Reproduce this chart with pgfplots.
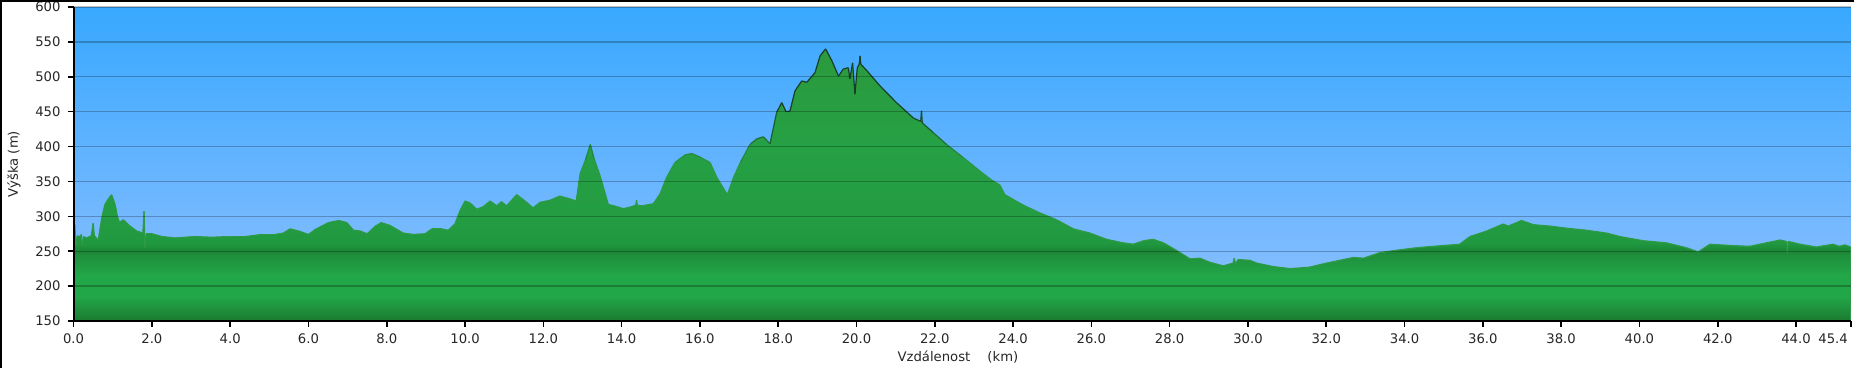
\documentclass[border=0pt]{standalone}
\usepackage{fontspec}
\setmainfont{DejaVu Sans}
\usepackage{pgfplots}
\pgfplotsset{compat=1.18}
\usepackage{pgfplotstable}
\definecolor{bgtop}{HTML}{38A8FF}
\definecolor{bgbot}{HTML}{90C0FF}
\definecolor{ga}{HTML}{1B7A30}
\definecolor{gb}{HTML}{22A748}
\definecolor{gc}{HTML}{1F8F3C}
\definecolor{gd}{HTML}{1B8536}
\definecolor{ge}{HTML}{209840}
\definecolor{gf}{HTML}{239C42}
\definecolor{gg}{HTML}{26A044}
\definecolor{gh}{HTML}{2C9A3E}
\pgfdeclareverticalshading{greenfill}{100bp}{color(0bp)=(ga); color(25bp)=(ga); color(29.5bp)=(gb); color(33.3bp)=(gb); color(37.1bp)=(gc); color(37.8bp)=(gd); color(39.3bp)=(ge); color(44.2bp)=(gf); color(57bp)=(gg); color(75bp)=(gh); color(100bp)=(gh)}
\pgfplotstableread{
x y
0.00 150
0.00 262
0.03 288
0.06 258
0.09 272
0.16 271
0.20 274
0.22 258
0.25 271
0.33 269
0.45 272
0.50 290
0.53 272
0.63 266
0.72 298
0.80 317
0.90 326
0.97 331
1.06 317
1.12 300
1.17 291
1.27 295
1.35 291
1.44 286
1.61 279
1.77 276
1.80 307
1.82 255
1.85 275
2.00 275
2.26 271
2.60 269
3.10 271
3.53 270
3.96 271
4.38 271
4.81 274
5.15 274
5.36 276
5.53 282
5.75 279
6.00 274
6.17 281
6.51 291
6.77 294
6.98 291
7.15 280
7.32 279
7.50 275
7.71 286
7.86 291
8.08 287
8.42 276
8.68 274
8.98 275
9.15 282
9.40 282
9.57 280
9.74 289
9.87 308
10.00 322
10.13 319
10.30 310
10.47 314
10.64 322
10.81 315
10.93 321
11.06 315
11.32 331
11.53 322
11.74 312
11.91 320
12.17 323
12.42 329
12.68 325
12.84 322
12.94 361
13.07 380
13.20 403
13.30 382
13.45 358
13.66 317
13.87 314
14.04 311
14.21 313
14.36 316
14.38 323
14.40 316
14.51 315
14.81 318
14.98 332
15.15 356
15.36 377
15.62 388
15.79 390
16.00 385
16.26 377
16.43 356
16.70 331
16.86 356
17.03 377
17.28 403
17.45 411
17.62 414
17.79 404
17.96 449
18.09 463
18.20 450
18.30 451
18.43 480
18.60 494
18.73 492
18.94 506
19.07 530
19.21 540
19.37 523
19.54 501
19.66 511
19.79 513
19.83 497
19.90 520
19.96 475
20.02 513
20.07 518
20.09 530
20.11 518
20.26 509
20.60 487
21.02 463
21.45 441
21.64 436
21.66 451
21.68 434
21.96 420
22.30 403
22.73 384
23.15 365
23.45 352
23.66 345
23.79 331
24.26 316
24.68 305
25.11 295
25.54 282
25.96 276
26.39 267
26.81 262
27.07 260
27.33 265
27.58 267
27.84 262
28.18 251
28.52 239
28.77 240
29.03 234
29.37 229
29.62 233
29.65 240
29.68 232
29.75 238
30.05 237
30.22 233
30.64 228
31.07 225
31.56 227
32.01 233
32.69 241
32.95 240
33.37 248
33.88 252
34.31 255
34.73 257
35.41 260
35.67 271
36.10 279
36.52 289
36.65 286
36.99 294
37.29 288
37.71 286
38.14 283
38.65 280
39.16 276
39.50 271
40.10 265
40.69 262
41.20 255
41.50 249
41.80 260
42.39 258
42.82 257
43.24 262
43.59 266
43.76 264
43.78 248
43.80 264
44.10 260
44.52 256
44.95 260
45.10 257
45.25 259
45.40 256
45.40 150
}\prof
\begin{document}
\begin{tikzpicture}[x=1pt,y=1pt]
\useasboundingbox (0,0) rectangle (927,184);
\begin{axis}[
  at={(36.8pt,23.5pt)}, anchor=south west,
  scale only axis, width=888.6pt, height=157pt,
  xmin=0, xmax=45.4, ymin=150, ymax=600,
  axis x line*=bottom, axis y line*=left,
  axis line style={-, black, line width=1pt},
  axis background/.style={shade, top color=bgtop, bottom color=bgbot},
  axis on top,
  ymajorgrids,
  major grid style={black, opacity=0.25, line width=0.7pt},
  xtick={0,2,4,6,8,10,12,14,16,18,20,22,24,26,28,30,32,34,36,38,40,42,44,45.4},
  xticklabels={0.0,2.0,4.0,6.0,8.0,10.0,12.0,14.0,16.0,18.0,20.0,22.0,24.0,26.0,28.0,30.0,32.0,34.0,36.0,38.0,40.0,42.0,44.0,\makebox[0pt][r]{45.4\hspace{1.5pt}}},
  ytick={150,200,...,600},
  /pgf/number format/assume math mode=true,
  tick align=outside,
  major tick length=3pt,
  tick style={black, line width=0.8pt},
  ticklabel style={font=\fontsize{6.6}{8}\selectfont, text=black!85},
  label style={font=\fontsize{6.6}{8}\selectfont, text=black!85},
  ylabel={Výška (m)},
  xlabel={Vzdálenost\hspace{1.3em}(km)},
  ylabel style={at={(axis description cs:-0.0335,0.5)}, anchor=center},
  xlabel style={at={(axis description cs:0.4976,-0.1146)}, anchor=center},
  colormap={outl}{rgb255(0cm)=(45,154,69); rgb255(1cm)=(22,64,38)},
  point meta min=375, point meta max=450,
]
\addplot[draw=none, shade, shading=greenfill, no markers] table {\prof};
\addplot[mesh, point meta=y, line width=0.6pt, no markers] table {\prof};
\end{axis}
\draw[black, line width=1pt] (0.5,0) -- (0.5,183.5) -- (927,183.5);
\end{tikzpicture}
\end{document}
